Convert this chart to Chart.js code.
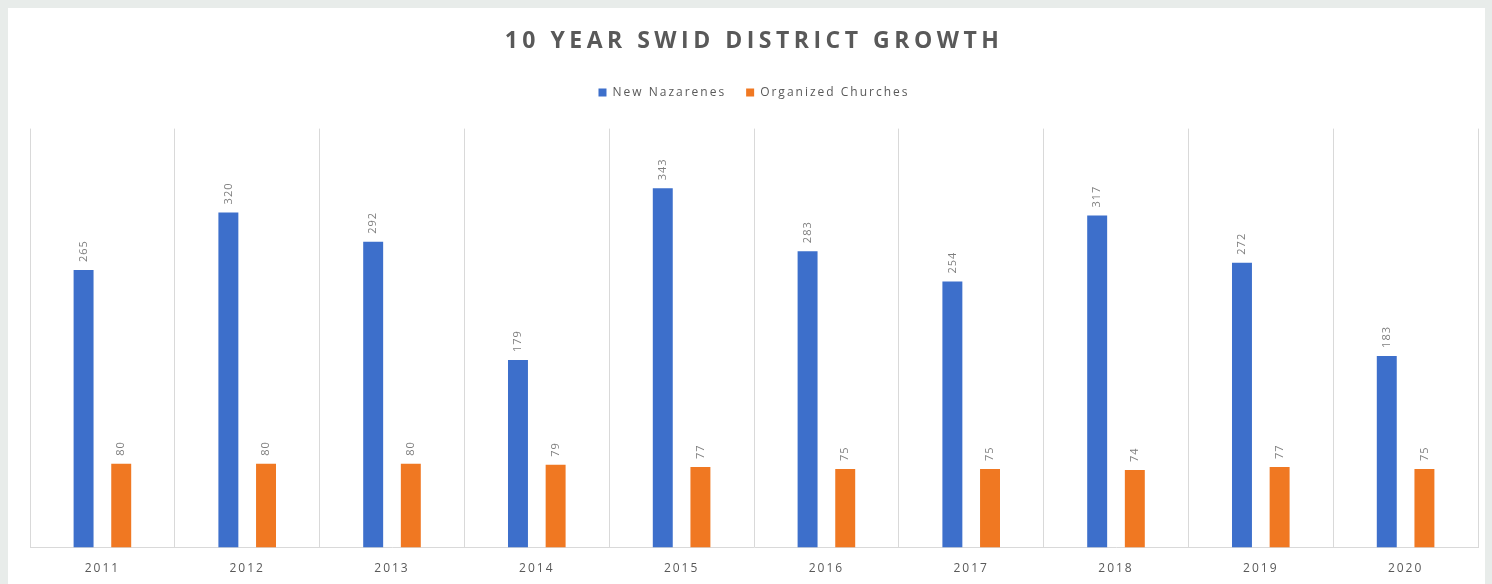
<!DOCTYPE html>
<html>
<head>
<meta charset="utf-8">
<script src="https://cdn.jsdelivr.net/npm/chart.js@4.4.1/dist/chart.umd.min.js"></script>
<style>
  html, body { margin: 0; padding: 0; background: #e8ecea; overflow: hidden; }
  #panel { position: absolute; left: 8px; top: 8px; width: 1477px; height: 576px; background: #fff; overflow: hidden; }
</style>
</head>
<body>
<div id="panel"><canvas id="growth" width="1477" height="590"></canvas></div>
<script>
const years = ['2011', '2012', '2013', '2014', '2015', '2016', '2017', '2018', '2019', '2020'];
const newNazarenes = [265, 320, 292, 179, 343, 283, 254, 317, 272, 183];
const organizedChurches = [80, 80, 80, 79, 77, 75, 75, 74, 77, 75];

const FONT = '"Open Sans", "DejaVu Sans", sans-serif';

// spaced-out text like the original, reset before bars are drawn
const spacing = {
    id: 'spacing',
    beforeInit(chart) {
        const fit = chart.legend.fit;
        chart.legend.fit = function () {
            const ctx = this.ctx;
            ctx.save();
            ctx.letterSpacing = '2px';
            fit.call(this);
            ctx.restore();
            this.height += 20;
        };
        const drawTitle = chart.titleBlock.draw;
        chart.titleBlock.draw = function () {
            const ctx = this.ctx;
            ctx.save();
            ctx.letterSpacing = '4.5px';
            drawTitle.apply(this, arguments);
            ctx.restore();
        };
    },
    beforeDraw(chart) { chart.ctx.letterSpacing = '2px'; },
    beforeDatasetsDraw(chart) { chart.ctx.letterSpacing = '0px'; }
};

// rotated value labels above each bar
const valueLabels = {
    id: 'valueLabels',
    afterDatasetsDraw(chart) {
        const ctx = chart.ctx;
        ctx.save();
        ctx.letterSpacing = '1px';
        ctx.font = '11px ' + FONT;
        ctx.fillStyle = '#7f7f7f';
        ctx.textAlign = 'left';
        ctx.textBaseline = 'middle';
        chart.data.datasets.forEach((ds, i) => {
            chart.getDatasetMeta(i).data.forEach((bar, j) => {
                ctx.save();
                ctx.translate(bar.x, bar.y - 8);
                ctx.rotate(-Math.PI / 2);
                ctx.fillText(String(ds.data[j]), 0, 0);
                ctx.restore();
            });
        });
        ctx.restore();
    }
};

new Chart(document.getElementById('growth'), {
    type: 'bar',
    data: {
        labels: years,
        datasets: [
            {
                label: 'New Nazarenes',
                data: newNazarenes,
                backgroundColor: '#3d6fcb',
                categoryPercentage: 0.52,
                barPercentage: 0.53
            },
            {
                label: 'Organized Churches',
                data: organizedChurches,
                backgroundColor: '#f07822',
                categoryPercentage: 0.52,
                barPercentage: 0.53
            }
        ]
    },
    options: {
        responsive: false,
        animation: false,
        layout: { padding: { left: 22, right: 7, bottom: 8 } },
        plugins: {
            title: {
                display: true,
                text: '10 YEAR SWID DISTRICT GROWTH',
                color: '#595959',
                font: { family: FONT, size: 23, weight: 'bold' },
                padding: { top: 20, bottom: 11 }
            },
            legend: {
                position: 'top',
                labels: {
                    color: '#595959',
                    font: { family: FONT, size: 12 },
                    boxWidth: 8,
                    boxHeight: 8,
                    padding: 20
                }
            },
            tooltip: { enabled: false }
        },
        scales: {
            x: {
                grid: { color: '#d9d9d9', drawTicks: false, offset: true },
                border: { color: '#d9d9d9' },
                ticks: { color: '#595959', font: { family: FONT, size: 12 }, padding: 14 }
            },
            y: { display: false, min: 0, max: 400 }
        }
    },
    plugins: [spacing, valueLabels]
});
</script>
</body>
</html>
